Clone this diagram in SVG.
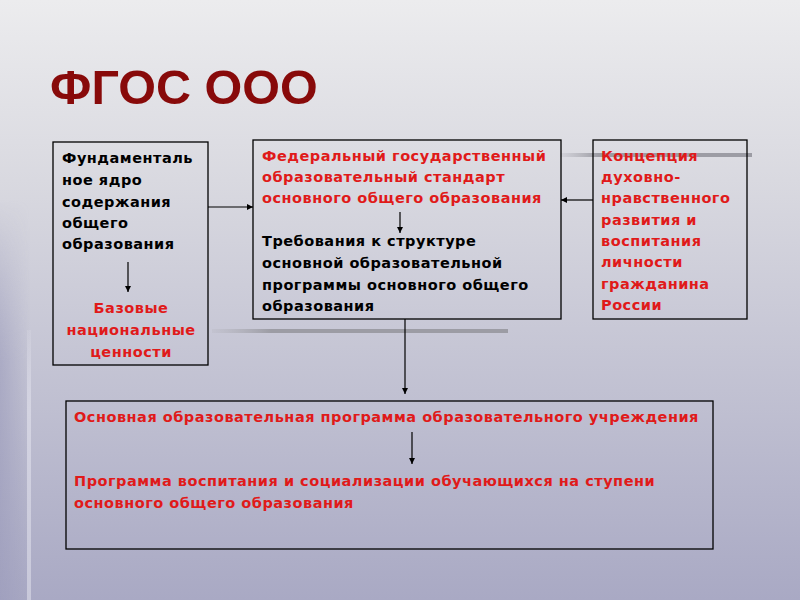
<svg xmlns="http://www.w3.org/2000/svg" width="800" height="600" viewBox="0 0 800 600">
<defs>
<linearGradient id="bg" x1="0" y1="0" x2="0" y2="1">
<stop offset="0" stop-color="#ececee"/>
<stop offset="0.3" stop-color="#d9d9e0"/>
<stop offset="1" stop-color="#a9a9c4"/>
</linearGradient>
<linearGradient id="edge" x1="0" y1="0" x2="1" y2="0">
<stop offset="0" stop-color="#9a9aba" stop-opacity="0.6"/>
<stop offset="1" stop-color="#9a9aba" stop-opacity="0"/>
</linearGradient>
<linearGradient id="fade" x1="0" y1="0" x2="0" y2="1">
<stop offset="0" stop-color="#fff" stop-opacity="0"/>
<stop offset="0.4" stop-color="#fff" stop-opacity="1"/>
<stop offset="1" stop-color="#fff" stop-opacity="1"/>
</linearGradient>
<mask id="m" maskUnits="userSpaceOnUse" x="0" y="200" width="40" height="400">
<rect x="0" y="200" width="40" height="400" fill="url(#fade)"/>
</mask>
<linearGradient id="lh" x1="0" y1="0" x2="1" y2="0">
<stop offset="0" stop-color="#b0b0b8" stop-opacity="0.2"/>
<stop offset="0.2" stop-color="#9c9ca4"/>
<stop offset="1" stop-color="#9c9ca4"/>
</linearGradient>
<linearGradient id="lv" x1="0" y1="0" x2="0" y2="1">
<stop offset="0" stop-color="#e0e0ea" stop-opacity="0.2"/>
<stop offset="0.3" stop-color="#d4d4e2"/>
<stop offset="1" stop-color="#c8c8da"/>
</linearGradient>
<marker id="ah" viewBox="0 0 10 10" refX="10" refY="5" markerWidth="6" markerHeight="6" markerUnits="userSpaceOnUse" orient="auto">
<path d="M0,0 L10,5 L0,10 z" fill="#000"/>
</marker>
<style>
.box{fill:none;stroke:#000;stroke-width:1.3}
.t{font-family:"DejaVu Sans",Verdana,sans-serif;font-weight:bold;font-size:14.5px;letter-spacing:0.5px}
.k{fill:#000}
.r{fill:#e01a1a}
.c{stroke:#000;stroke-width:1.2;fill:none;marker-end:url(#ah)}
</style>
</defs>
<rect width="800" height="600" fill="url(#bg)"/>
<rect x="0" y="200" width="30" height="400" fill="url(#edge)" mask="url(#m)"/>
<rect x="27" y="330" width="4" height="270" fill="url(#lv)"/>
<rect x="560" y="153" width="192" height="4" fill="url(#lh)"/>
<rect x="212" y="329" width="296" height="4" fill="url(#lh)"/>
<text x="50" y="104" font-family="Liberation Sans,Arial,sans-serif" font-weight="bold" font-size="48.5" fill="#880a0a">ФГОС ООО</text>

<g id="node-core">
<rect class="box" x="53" y="142" width="155" height="223"/>
<text class="t k"><tspan x="62" y="163">Фундаменталь</tspan><tspan x="62" y="185">ное ядро</tspan><tspan x="62" y="207">содержания</tspan><tspan x="62" y="228">общего</tspan><tspan x="62" y="249">образования</tspan></text>
<line class="c" x1="128" y1="262" x2="128" y2="292"/>
<text class="t r" text-anchor="middle"><tspan x="131" y="313">Базовые</tspan><tspan x="131" y="335">национальные</tspan><tspan x="131" y="357">ценности</tspan></text>
</g>

<g id="node-fgos">
<rect class="box" x="253" y="140" width="308" height="179"/>
<text class="t r"><tspan x="262" y="161">Федеральный государственный</tspan><tspan x="262" y="182">образовательный стандарт</tspan><tspan x="262" y="203">основного общего образования</tspan></text>
<line class="c" x1="400" y1="212" x2="400" y2="233"/>
<text class="t k"><tspan x="262" y="246">Требования к структуре</tspan><tspan x="262" y="268">основной образовательной</tspan><tspan x="262" y="290">программы основного общего</tspan><tspan x="262" y="311">образования</tspan></text>
</g>

<g id="node-concept">
<rect class="box" x="593" y="140" width="154" height="179"/>
<text class="t r"><tspan x="601" y="161">Концепция</tspan><tspan x="601" y="182">духовно-</tspan><tspan x="601" y="203">нравственного</tspan><tspan x="601" y="225">развития и</tspan><tspan x="601" y="246">воспитания</tspan><tspan x="601" y="267">личности</tspan><tspan x="601" y="289">гражданина</tspan><tspan x="601" y="310">России</tspan></text>
</g>

<g id="node-program">
<rect class="box" x="66" y="401" width="647" height="148"/>
<text class="t r" x="74" y="422">Основная образовательная программа образовательного учреждения</text>
<line class="c" x1="412" y1="432" x2="412" y2="464"/>
<text class="t r"><tspan x="74" y="486">Программа воспитания и социализации обучающихся на ступени</tspan><tspan x="74" y="508">основного общего образования</tspan></text>
</g>

<g id="connectors">
<line class="c" x1="208" y1="207" x2="253" y2="207"/>
<line class="c" x1="593" y1="200" x2="561" y2="200"/>
<line class="c" x1="405" y1="319" x2="405" y2="394"/>
</g>
</svg>
